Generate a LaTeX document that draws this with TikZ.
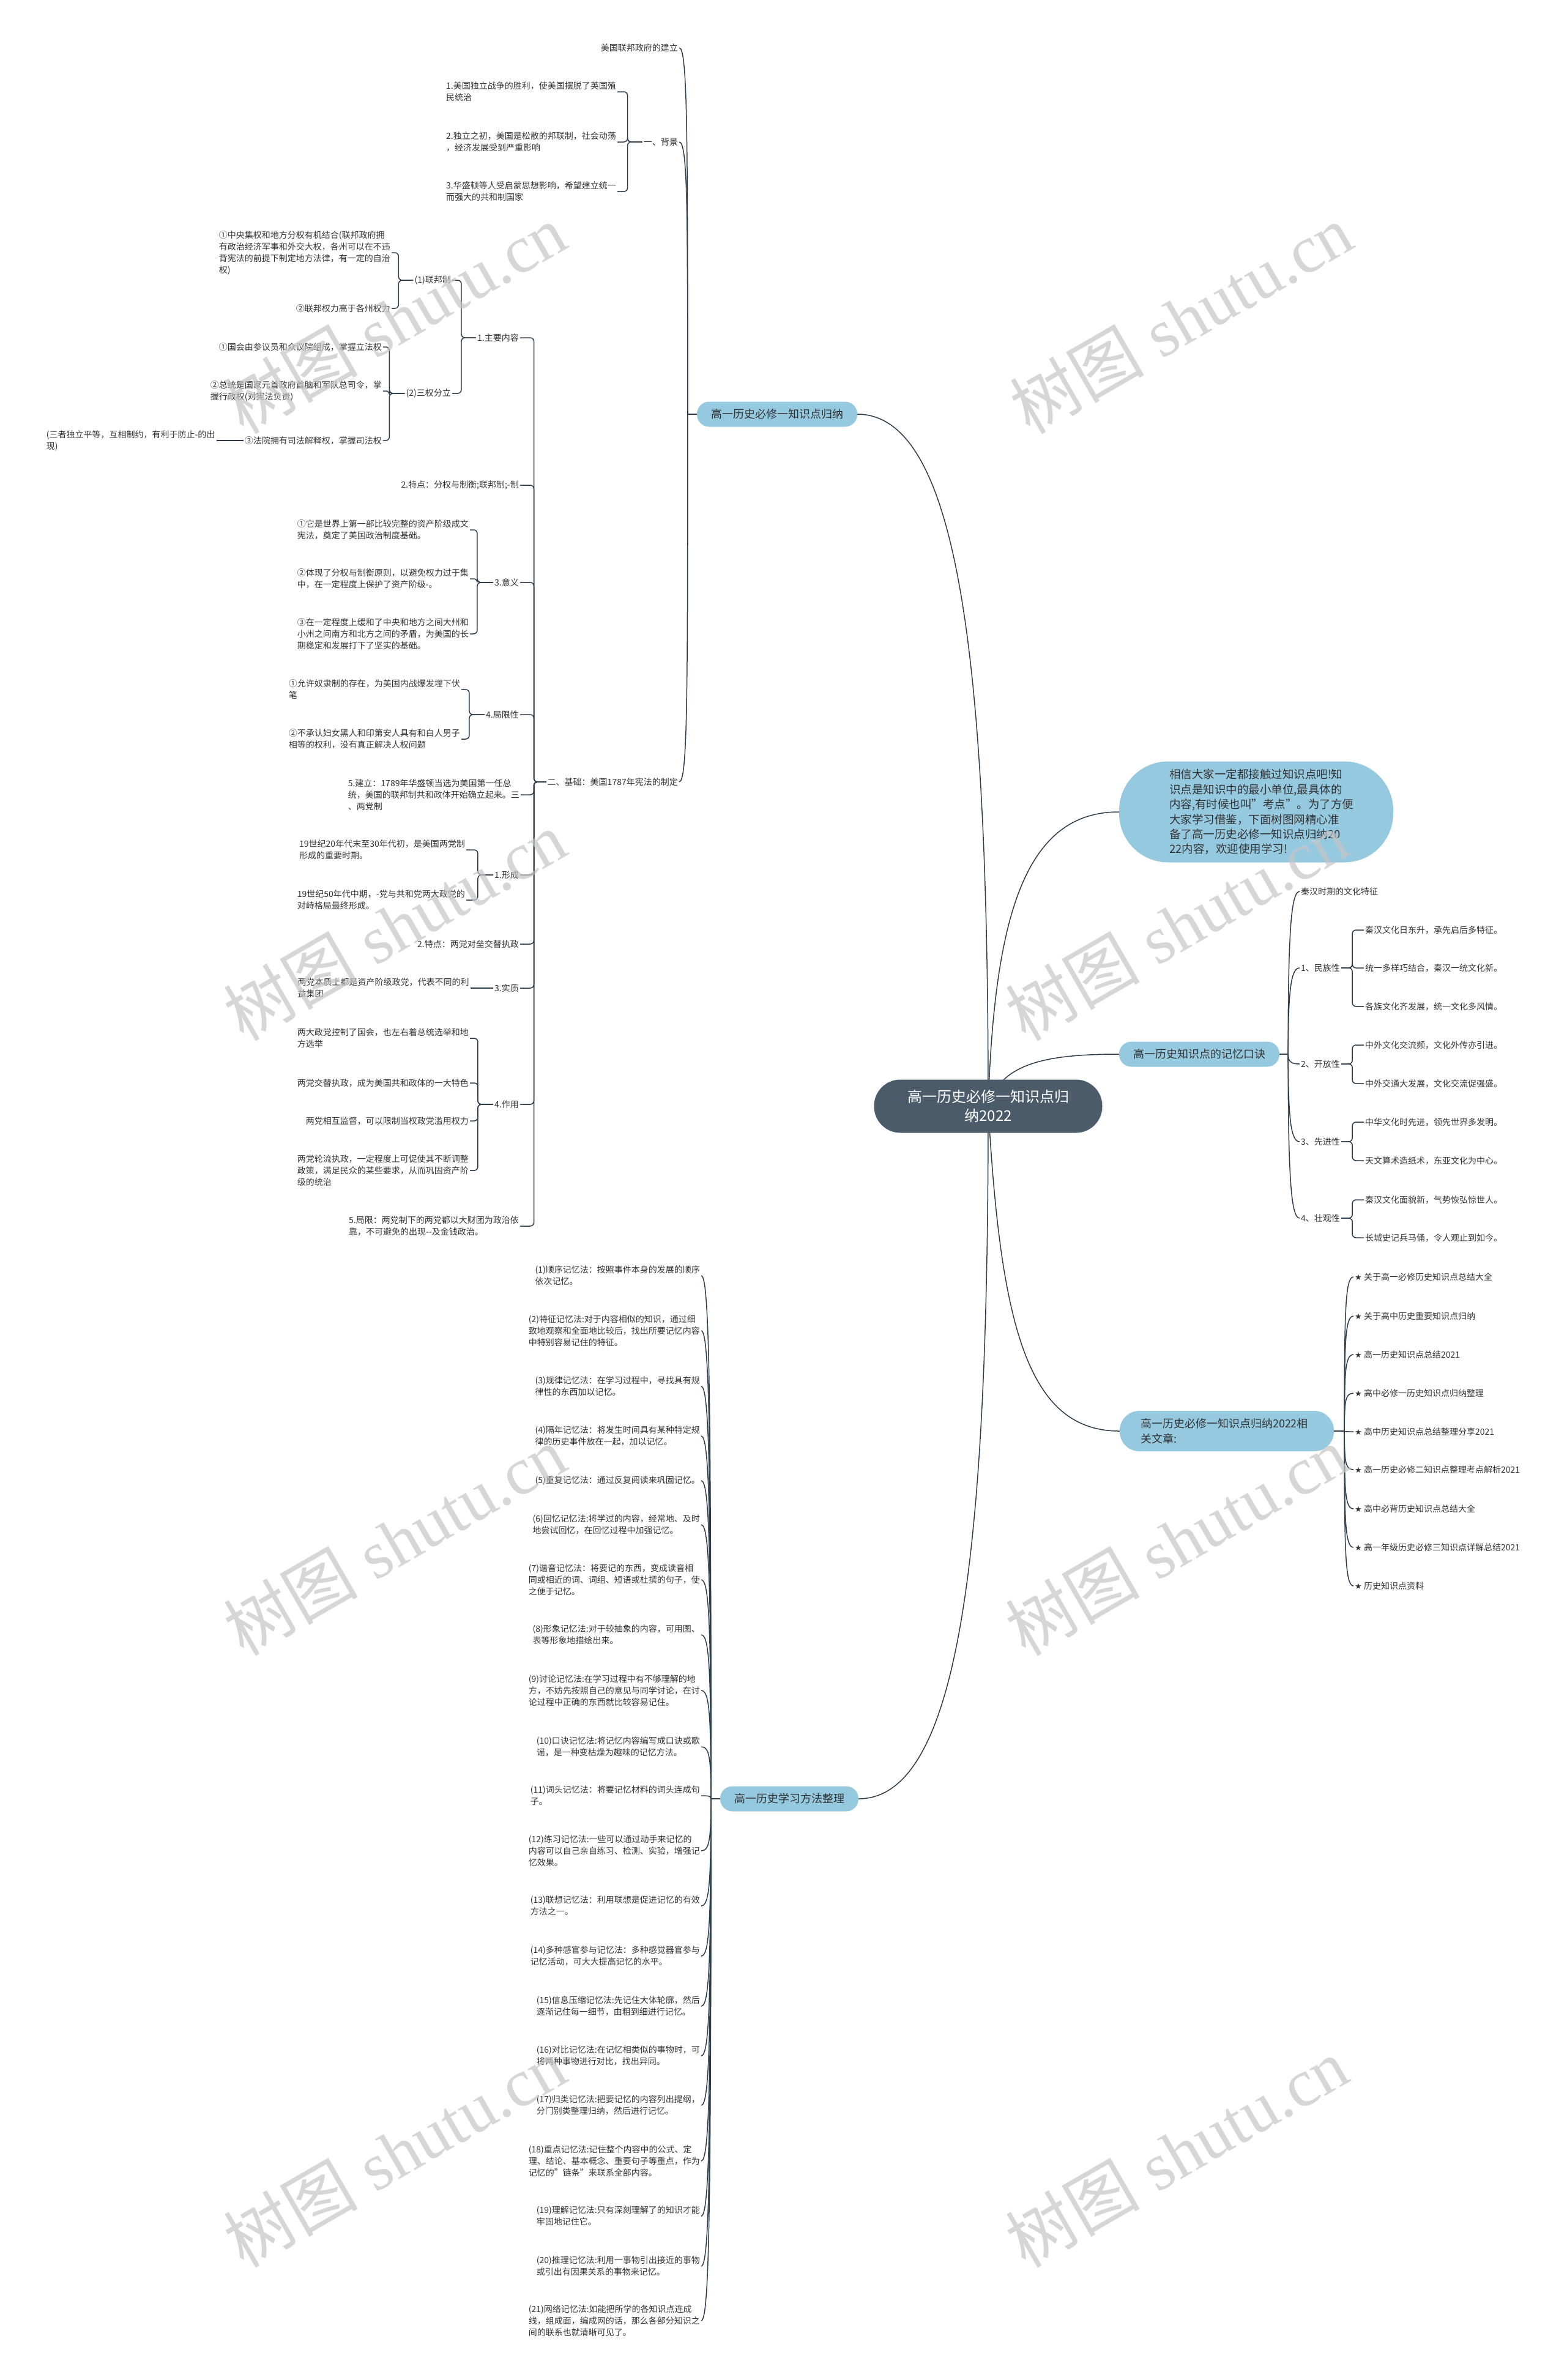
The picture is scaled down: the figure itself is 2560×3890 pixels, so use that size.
\documentclass[tikz,border=0pt]{standalone}
\usepackage{fontspec}
\setmainfont{Noto Sans CJK SC}
\newfontfamily\starfont{DejaVu Sans}
\newfontfamily\wmserif{Liberation Serif}
\usepackage{tikz}
\usetikzlibrary{calc, backgrounds, positioning}
\definecolor{linkcol}{HTML}{2E3D4B}
\definecolor{txtcol}{HTML}{333333}
\definecolor{topicblue}{HTML}{95C9E0}
\definecolor{rootcol}{HTML}{4B5B6A}
\definecolor{wmgray}{HTML}{C6C6C6}
\newcommand{\leaffont}{\fontsize{14}{19}\selectfont}
\newcommand{\topicfont}{\fontsize{18}{23}\selectfont}
\newcommand{\rootfont}{\fontsize{24}{31}\selectfont}
\newcommand{\wmfont}{\fontsize{110}{110}\selectfont}
\newcommand{\st}{{\starfont\fontsize{13}{19}\selectfont ★}\ }

\begin{document}
\begin{tikzpicture}[
  x=1pt, y=-1pt,
  link/.style={draw=linkcol, line width=1.5pt},
  bracket/.style={link, rounded corners=6pt},
  leaf/.style={font=\leaffont, text=txtcol, inner sep=2pt, align=left},
  lleaf/.style={leaf, anchor=east},
  rleaf/.style={leaf, anchor=west},
  topic/.style={fill=topicblue, rounded corners=20pt, font=\topicfont, text=txtcol,
    minimum height=41pt, inner xsep=23pt, align=left},
  rootbox/.style={fill=rootcol, rounded corners=43pt, font=\rootfont, text=white,
    minimum height=87pt, minimum width=373pt, align=center},
  wmark/.style={font=\wmfont, text=wmgray, opacity=0.7, rotate=30},
]
\useasboundingbox (0,0) rectangle (2560,3890);

% centre and main topics
\node[rootbox] (root) at (1615,1808) {高一历史必修一知识点归\\纳2022};
\node[topic] (b1) at (1270,677) {高一历史必修一知识点归纳};
\node[topic, font=\fontsize{18.5}{24.4}\selectfont, text width=284pt, inner xsep=82pt,
  minimum height=165pt, rounded corners=80pt] (b2) at (2053,1327)
  {相信大家一定都接触过知识点吧!知\\识点是知识中的最小单位,最具体的\\内容,有时候也叫"考点"。为了方便\\大家学习借鉴，下面树图网精心准\\备了高一历史必修一知识点归纳20\\22内容，欢迎使用学习!};
\node[topic] (b3) at (1960,1723) {高一历史知识点的记忆口诀};
\node[topic, font=\fontsize{18}{25}\selectfont, text width=282pt, inner xsep=34pt,
  minimum height=66pt, rounded corners=32pt] (b4) at (2005,2339)
  {高一历史必修一知识点归纳2022相\\关文章:};
\node[topic] (b5) at (1290,2940) {高一历史学习方法整理};

% branch 1: background
\node[lleaf] (t0) at (1110,78) {美国联邦政府的建立};
\node[lleaf] (bg) at (1110,232) {一、背景};
\node[lleaf] (bg1) at (1009,150) {1.美国独立战争的胜利，使美国摆脱了英国殖\\民统治};
\node[lleaf] (bg2) at (1009,232) {2.独立之初，美国是松散的邦联制，社会动荡\\，经济发展受到严重影响};
\node[lleaf] (bg3) at (1009,313) {3.华盛顿等人受启蒙思想影响，希望建立统一\\而强大的共和制国家};

% branch 1: constitution and two-party system
\node[lleaf] (jc) at (1110,1278) {二、基础：美国1787年宪法的制定};
\node[lleaf] (zy) at (850,552) {1.主要内容};
\node[lleaf] (lb) at (739,458) {(1)联邦制};
\node[lleaf] (lb1) at (640,413) {①中央集权和地方分权有机结合(联邦政府拥\\有政治经济军事和外交大权，各州可以在不违\\背宪法的前提下制定地方法律，有一定的自治\\权)};
\node[lleaf] (lb2) at (640,504) {②联邦权力高于各州权力};
\node[lleaf] (sq) at (739,643) {(2)三权分立};
\node[lleaf] (sq1) at (626,567) {①国会由参议员和众议院组成，掌握立法权};
\node[lleaf] (sq2) at (626,639) {②总统是国家元首政府首脑和军队总司令，掌\\握行政权(对宪法负责)};
\node[lleaf] (sq3) at (626,720) {③法院拥有司法解释权，掌握司法权};
\node[lleaf, left=44pt of sq3] (sz3) {(三者独立平等，互相制约，有利于防止-的出\\现)};
\node[lleaf] (td) at (850,793) {2.特点：分权与制衡;联邦制;-制};
\node[lleaf] (yy) at (850,952) {3.意义};
\node[lleaf] (yy1) at (768,866) {①它是世界上第一部比较完整的资产阶级成文\\宪法，奠定了美国政治制度基础。};
\node[lleaf] (yy2) at (768,946) {②体现了分权与制衡原则，以避免权力过于集\\中，在一定程度上保护了资产阶级-。};
\node[lleaf] (yy3) at (768,1036) {③在一定程度上缓和了中央和地方之间大州和\\小州之间南方和北方之间的矛盾，为美国的长\\期稳定和发展打下了坚实的基础。};
\node[lleaf] (jx) at (850,1168) {4.局限性};
\node[lleaf] (jx1) at (754,1127) {①允许奴隶制的存在，为美国内战爆发埋下伏\\笔};
\node[lleaf] (jx2) at (754,1208) {②不承认妇女黑人和印第安人具有和白人男子\\相等的权利，没有真正解决人权问题};
\node[lleaf] (jl) at (851,1299) {5.建立：1789年华盛顿当选为美国第一任总\\统，美国的联邦制共和政体开始确立起来。三\\、两党制};
\node[lleaf] (xc) at (850,1430) {1.形成};
\node[lleaf] (xc1) at (762,1389) {19世纪20年代末至30年代初，是美国两党制\\形成的重要时期。};
\node[lleaf] (xc2) at (762,1471) {19世纪50年代中期，-党与共和党两大政党的\\对峙格局最终形成。};
\node[lleaf] (tdd) at (850,1543) {2.特点：两党对垒交替执政};
\node[lleaf] (sz) at (850,1615) {3.实质};
\node[lleaf, left=37pt of sz] (szz) {两党本质上都是资产阶级政党，代表不同的利\\益集团};
\node[lleaf] (zyy) at (850,1805) {4.作用};
\node[lleaf] (z1) at (768,1697) {两大政党控制了国会，也左右着总统选举和地\\方选举};
\node[lleaf] (z2) at (768,1770) {两党交替执政，成为美国共和政体的一大特色};
\node[lleaf] (z3) at (768,1832) {两党相互监督，可以限制当权政党滥用权力};
\node[lleaf] (z4) at (768,1913) {两党轮流执政，一定程度上可促使其不断调整\\政策，满足民众的某些要求，从而巩固资产阶\\级的统治};
\node[lleaf] (jxx) at (850,2004) {5.局限：两党制下的两党都以大财团为政治依\\靠，不可避免的出现-{}-及金钱政治。};

% branch 3: memory rhymes
\node[rleaf] (q0) at (2124,1457) {秦汉时期的文化特征};
\node[rleaf] (q1) at (2124,1582) {1、民族性};
\node[rleaf] (q2) at (2124,1739) {2、开放性};
\node[rleaf] (q3) at (2124,1866) {3、先进性};
\node[rleaf] (q4) at (2124,1991) {4、壮观性};
\node[rleaf] (p11) at (2229,1520) {秦汉文化日东升，承先启后多特征。};
\node[rleaf] (p12) at (2229,1582) {统一多样巧结合，秦汉一统文化新。};
\node[rleaf] (p13) at (2229,1645) {各族文化齐发展，统一文化多风情。};
\node[rleaf] (p21) at (2229,1708) {中外文化交流频，文化外传亦引进。};
\node[rleaf] (p22) at (2229,1771) {中外交通大发展，文化交流促强盛。};
\node[rleaf] (p31) at (2229,1834) {中华文化时先进，领先世界多发明。};
\node[rleaf] (p32) at (2229,1897) {天文算术造纸术，东亚文化为中心。};
\node[rleaf] (p41) at (2229,1961) {秦汉文化面貌新，气势恢弘惊世人。};
\node[rleaf] (p42) at (2229,2023) {长城史记兵马俑，令人观止到如今。};

% branch 4: related articles
\node[rleaf] (s1) at (2212,2087) {\st 关于高一必修历史知识点总结大全};
\node[rleaf] (s2) at (2212,2151) {\st 关于高中历史重要知识点归纳};
\node[rleaf] (s3) at (2212,2214) {\st 高一历史知识点总结2021};
\node[rleaf] (s4) at (2212,2277) {\st 高中必修一历史知识点归纳整理};
\node[rleaf] (s5) at (2212,2340) {\st 高中历史知识点总结整理分享2021};
\node[rleaf] (s6) at (2212,2402) {\st 高一历史必修二知识点整理考点解析2021};
\node[rleaf] (s7) at (2212,2466) {\st 高中必背历史知识点总结大全};
\node[rleaf] (s8) at (2212,2529) {\st 高一年级历史必修三知识点详解总结2021};
\node[rleaf] (s9) at (2212,2592) {\st 历史知识点资料};

% branch 5: study methods
\node[lleaf] (m1) at (1146,2085) {(1)顺序记忆法：按照事件本身的发展的顺序\\依次记忆。};
\node[lleaf] (m2) at (1146,2175) {(2)特征记忆法:对于内容相似的知识，通过细\\致地观察和全面地比较后，找出所要记忆内容\\中特别容易记住的特征。};
\node[lleaf] (m3) at (1146,2266) {(3)规律记忆法：在学习过程中，寻找具有规\\律性的东西加以记忆。};
\node[lleaf] (m4) at (1146,2347) {(4)隔年记忆法：将发生时间具有某种特定规\\律的历史事件放在一起，加以记忆。};
\node[lleaf] (m5) at (1146,2420) {(5)重复记忆法：通过反复阅读来巩固记忆。};
\node[lleaf] (m6) at (1146,2492) {(6)回忆记忆法:将学过的内容，经常地、及时\\地尝试回忆，在回忆过程中加强记忆。};
\node[lleaf] (m7) at (1146,2582) {(7)谐音记忆法：将要记的东西，变成读音相\\同或相近的词、词组、短语或杜撰的句子，使\\之便于记忆。};
\node[lleaf] (m8) at (1146,2672) {(8)形象记忆法:对于较抽象的内容，可用图、\\表等形象地描绘出来。};
\node[lleaf] (m9) at (1146,2763) {(9)讨论记忆法:在学习过程中有不够理解的地\\方，不妨先按照自己的意见与同学讨论，在讨\\论过程中正确的东西就比较容易记住。};
\node[lleaf] (m10) at (1146,2855) {(10)口诀记忆法:将记忆内容编写成口诀或歌\\谣，是一种变枯燥为趣味的记忆方法。};
\node[lleaf] (m11) at (1146,2935) {(11)词头记忆法：将要记忆材料的词头连成句\\子。};
\node[lleaf] (m12) at (1146,3025) {(12)练习记忆法:一些可以通过动手来记忆的\\内容可以自己亲自练习、检测、实验，增强记\\忆效果。};
\node[lleaf] (m13) at (1146,3115) {(13)联想记忆法：利用联想是促进记忆的有效\\方法之一。};
\node[lleaf] (m14) at (1146,3197) {(14)多种感官参与记忆法：多种感觉器官参与\\记忆活动，可大大提高记忆的水平。};
\node[lleaf] (m15) at (1146,3279) {(15)信息压缩记忆法:先记住大体轮廓，然后\\逐渐记住每一细节，由粗到细进行记忆。};
\node[lleaf] (m16) at (1146,3360) {(16)对比记忆法:在记忆相类似的事物时，可\\将两种事物进行对比，找出异同。};
\node[lleaf] (m17) at (1146,3441) {(17)归类记忆法:把要记忆的内容列出提纲，\\分门别类整理归纳，然后进行记忆。};
\node[lleaf] (m18) at (1146,3532) {(18)重点记忆法:记住整个内容中的公式、定\\理、结论、基本概念、重要句子等重点，作为\\记忆的"链条"来联系全部内容。};
\node[lleaf] (m19) at (1146,3622) {(19)理解记忆法:只有深刻理解了的知识才能\\牢固地记住它。};
\node[lleaf] (m20) at (1146,3704) {(20)推理记忆法:利用一事物引出接近的事物\\或引出有因果关系的事物来记忆。};
\node[lleaf] (m21) at (1146,3793) {(21)网络记忆法:如能把所学的各知识点连成\\线，组成面，编成网的话，那么各部分知识之\\间的联系也就清晰可见了。};

% trunk points
\coordinate (b1t) at ([xshift=-15pt]b1.west);
\coordinate (b3t) at ([xshift=14pt]b3.east);
\coordinate (b4t) at ([xshift=17pt]b4.east);
\coordinate (b5t) at ([xshift=-15pt]b5.west);

\begin{scope}[on background layer]
  \fill[white] (0,0) rectangle (2560,3890);
  % centre to topics
  \draw[link] (root.center) .. controls +(0,-700) and +(170,0) .. (b1.east);
  \draw[link] (root.center) .. controls +(10,-320) and +(-150,0) .. (b2.west);
  \draw[link] (root.center) .. controls +(20,-70) and +(-120,0) .. (b3.west);
  \draw[link] (root.center) .. controls +(20,360) and +(-150,0) .. (b4.west);
  \draw[link] (root.center) .. controls +(0,700) and +(170,0) .. (b5.east);
  % curved trunks
  \draw[link] (b1.west) -- (b1t);
  \foreach \nd in {t0,bg,jc}
    \draw[link] (b1t) .. controls ($(b1t)!0.75!(b1t|-\nd.east)$) and ($(\nd.east)+(14,0)$) .. (\nd.east);
  \draw[link] (b3.east) -- (b3t);
  \foreach \nd in {q0,q1,q2,q3,q4}
    \draw[link] (b3t) .. controls ($(b3t)!0.75!(b3t|-\nd.west)$) and ($(\nd.west)+(-14,0)$) .. (\nd.west);
  \draw[link] (b4.east) -- (b4t);
  \foreach \nd in {s1,s2,s3,s4,s5,s6,s7,s8,s9}
    \draw[link] (b4t) .. controls ($(b4t)!0.75!(b4t|-\nd.west)$) and ($(\nd.west)+(-14,0)$) .. (\nd.west);
  \draw[link] (b5.west) -- (b5t);
  \foreach \nd in {m1,m2,m3,m4,m5,m6,m7,m8,m9,m10,m11,m12,m13,m14,m15,m16,m17,m18,m19,m20,m21}
    \draw[link] (b5t) .. controls ($(b5t)!0.75!(b5t|-\nd.east)$) and ($(\nd.east)+(14,0)$) .. (\nd.east);
  % square brackets
  \foreach \nd in {bg1,bg2,bg3} \draw[bracket] (bg.west) -- ++(-24,0) |- (\nd.east);
  \foreach \nd in {zy,td,yy,jx,jl,xc,tdd,sz,zyy,jxx} \draw[bracket] (jc.west) -- ++(-20,0) |- (\nd.east);
  \foreach \nd in {lb,sq} \draw[bracket] (zy.west) -- ++(-24,0) |- (\nd.east);
  \foreach \nd in {lb1,lb2} \draw[bracket] (lb.west) -- ++(-24,0) |- (\nd.east);
  \foreach \nd in {sq1,sq2,sq3} \draw[bracket] (sq.west) -- ++(-25,0) |- (\nd.east);
  \draw[link] (sq3.west) -- (sz3.east);
  \foreach \nd in {yy1,yy2,yy3} \draw[bracket] (yy.west) -- ++(-26,0) |- (\nd.east);
  \foreach \nd in {jx1,jx2} \draw[bracket] (jx.west) -- ++(-25,0) |- (\nd.east);
  \foreach \nd in {xc1,xc2} \draw[bracket] (xc.west) -- ++(-25,0) |- (\nd.east);
  \draw[link] (sz.west) -- (szz.east);
  \foreach \nd in {z1,z2,z3,z4} \draw[bracket] (zyy.west) -- ++(-25,0) |- (\nd.east);
  \foreach \nd in {p11,p12,p13} \draw[bracket] (q1.east) -- ++(18,0) |- (\nd.west);
  \foreach \nd in {p21,p22} \draw[bracket] (q2.east) -- ++(18,0) |- (\nd.west);
  \foreach \nd in {p31,p32} \draw[bracket] (q3.east) -- ++(18,0) |- (\nd.west);
  \foreach \nd in {p41,p42} \draw[bracket] (q4.east) -- ++(18,0) |- (\nd.west);
\end{scope}

% watermark
\foreach \wx/\wy [count=\i] in {645/521,1930/521,645/1513,1923/1513,645/2518,1923/2518,645/3518,1923/3518}
  \node[wmark] (wm\i) at (\wx,\wy) {树图\hspace{28pt}{\wmserif shutu.cn}};

\end{tikzpicture}
\end{document}
